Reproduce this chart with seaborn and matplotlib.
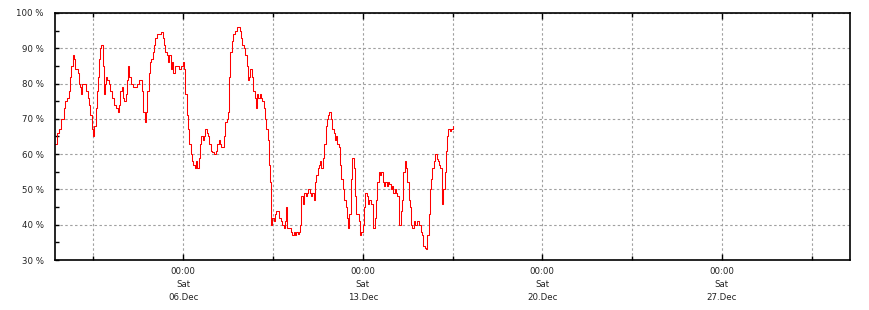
import numpy as np
import pandas as pd
import matplotlib
matplotlib.use("Agg")
import matplotlib.pyplot as plt
import matplotlib.dates as mdates
from matplotlib.ticker import FixedLocator, FuncFormatter, MultipleLocator
import seaborn as sns

# ---- data (day offset from 1 Dec 00:00, value in %) ----
days = [0.00, 0.08, 0.16, 0.25, 0.34, 0.40, 0.48, 0.53, 0.58, 0.64, 0.69, 0.73, 0.78, 0.83, 0.88,
        0.93, 0.99, 1.01, 1.04, 1.11, 1.17, 1.22, 1.27, 1.32, 1.37, 1.43, 1.48, 1.53, 1.58, 1.62,
        1.67, 1.71, 1.76, 1.81, 1.87, 1.91, 1.96, 2.00, 2.04, 2.10, 2.16, 2.23, 2.31, 2.39, 2.44,
        2.49, 2.55, 2.61, 2.64, 2.70, 2.75, 2.80, 2.85, 2.90, 2.96, 3.03, 3.11, 3.19, 3.27, 3.34,
        3.40, 3.45, 3.50, 3.55, 3.60, 3.66, 3.71, 3.76, 3.81, 3.86, 3.91, 3.99, 4.07, 4.15, 4.20,
        4.25, 4.30, 4.36, 4.41, 4.46, 4.51, 4.56, 4.62, 4.69, 4.77, 4.85, 4.93, 4.98, 5.03, 5.08,
        5.13, 5.19, 5.24, 5.29, 5.34, 5.39, 5.44, 5.50, 5.55, 5.60, 5.65, 5.70, 5.76, 5.81, 5.86,
        5.91, 5.96, 6.01, 6.07, 6.12, 6.20, 6.27, 6.33, 6.38, 6.43, 6.48, 6.53, 6.59, 6.64, 6.69,
        6.74, 6.79, 6.84, 6.90, 6.95, 7.03, 7.10, 7.16, 7.21, 7.26, 7.31, 7.36, 7.42, 7.47, 7.52,
        7.57, 7.62, 7.67, 7.73, 7.78, 7.83, 7.88, 7.93, 7.99, 8.04, 8.09, 8.14, 8.19, 8.24, 8.30,
        8.35, 8.37, 8.43, 8.48, 8.53, 8.58, 8.63, 8.69, 8.74, 8.82, 8.87, 8.92, 8.97, 9.00, 9.05,
        9.15, 9.20, 9.25, 9.30, 9.36, 9.41, 9.46, 9.51, 9.56, 9.61, 9.67, 9.72, 9.77, 9.82, 9.87,
        9.93, 9.98, 10.03, 10.08, 10.13, 10.19, 10.24, 10.29, 10.34, 10.39, 10.44, 10.50, 10.55,
        10.60, 10.65, 10.70, 10.76, 10.81, 10.86, 10.91, 10.96, 11.01, 11.07, 11.12, 11.17, 11.22,
        11.27, 11.33, 11.38, 11.43, 11.48, 11.53, 11.59, 11.64, 11.69, 11.74, 11.79, 11.84, 11.90,
        11.95, 12.00, 12.05, 12.10, 12.16, 12.21, 12.26, 12.31, 12.36, 12.41, 12.47, 12.52, 12.57,
        12.62, 12.67, 12.73, 12.78, 12.83, 12.88, 12.93, 12.99, 13.04, 13.09, 13.14, 13.19, 13.24,
        13.30, 13.35, 13.40, 13.43, 13.48, 13.53, 13.58, 13.63, 13.69, 13.74, 13.79, 13.84, 13.89,
        13.94, 14.00, 14.05, 14.10, 14.15, 14.20, 14.26, 14.31, 14.36, 14.41, 14.46, 14.51, 14.57,
        14.62, 14.67, 14.72, 14.77, 14.83, 14.88, 14.93, 14.98, 15.03, 15.08, 15.14, 15.19, 15.24,
        15.29, 15.34, 15.40, 15.45, 15.50]

values = [63, 66, 67, 70, 73, 75, 76, 78, 82, 85, 88, 87, 84, 84, 83,
          80, 79, 77, 80, 80, 80, 78, 76, 74, 71, 67, 65, 68, 73, 78,
          82, 87, 90, 91, 85, 77, 80, 82, 81, 80, 78, 76, 74, 73, 72,
          74, 78, 79, 76, 75, 77, 81, 85, 82, 80, 79, 79, 80, 81, 81,
          78, 72, 69, 72, 78, 83, 86, 87, 89, 91, 93, 94, 94, 94.5, 93,
          91, 89, 88, 86, 88, 84, 86, 83, 85, 85, 84, 85, 86, 84, 77,
          71, 67, 63, 60, 58, 57, 56, 58, 56, 59, 63, 65, 64, 65, 67,
          66, 65, 63, 61, 60.5, 60, 61, 63, 64, 63, 62, 62, 65, 69, 70,
          72, 82, 89, 92, 94, 95, 96, 96, 95, 93, 91, 90, 88, 85, 81,
          82, 84, 82, 78, 76, 73, 77, 76, 77, 76, 75, 73, 70, 67, 64,
          57, 52, 40, 42, 41, 43, 44, 44, 42, 41, 40, 39, 41, 45, 39,
          39, 38, 37, 38, 37, 38, 37.5, 38, 40, 48, 46, 49, 48, 49, 50,
          49, 48, 49, 47, 52, 54, 56, 57, 58, 56, 59, 63, 68,
          70, 71, 72, 70, 67, 66, 64, 65, 63, 62, 57, 53, 50,
          47, 45, 42, 39, 43, 53, 59, 56, 48, 43, 43, 41, 37,
          38, 40, 45, 49, 48, 46, 47, 46, 46, 39, 42, 47, 52,
          55, 54, 55, 52, 51, 52, 51, 52, 51.5, 50, 51, 49, 50,
          49, 48, 43, 40, 44, 47, 55, 58, 56, 52, 47, 45, 40,
          39, 41, 40, 41, 41, 40, 38, 37, 34, 33.5, 33, 37, 43,
          50, 53, 56, 58, 60, 58.5, 58, 57, 56, 46, 50, 55, 61,
          65, 67, 66.5, 67, 68]

start = pd.Timestamp("2025-12-01 00:00")
end = pd.Timestamp("2026-01-01 00:00")
major_dates = ["2025-12-06", "2025-12-13", "2025-12-20", "2025-12-27"]
minor_dates = ["2025-12-02 12:00", "2025-12-09 12:00", "2025-12-16 12:00",
               "2025-12-23 12:00", "2025-12-30 12:00"]
y_ticks = [30, 40, 50, 60, 70, 80, 90, 100]

df = pd.DataFrame({"time": start + pd.to_timedelta(days, unit="D"), "value": values})

sns.set_theme(style="white")
plt.rcParams["font.family"] = ["DejaVu Sans"]

fig = plt.figure(figsize=(8.7, 3.1), dpi=100)
ax = fig.add_axes([55 / 870, 50 / 310, 795 / 870, 247 / 310])

sns.lineplot(data=df, x="time", y="value", color="#ff0000", linewidth=0.75, ax=ax,
             drawstyle="steps-post")

ax.set_xlim(start, end)
ax.set_ylim(30, 100)

maj = [mdates.date2num(pd.Timestamp(d)) for d in major_dates]
mnr = [mdates.date2num(pd.Timestamp(d)) for d in minor_dates]
ax.xaxis.set_major_locator(FixedLocator(maj))
ax.xaxis.set_minor_locator(FixedLocator(mnr))
ax.xaxis.set_major_formatter(mdates.DateFormatter("%H:%M\n%a\n%d.%b"))
ax.yaxis.set_major_locator(FixedLocator(y_ticks))
ax.yaxis.set_minor_locator(MultipleLocator(5))
ax.yaxis.set_major_formatter(FuncFormatter(lambda v, p: f"{int(v)} %"))

ax.set_xlabel("")
ax.set_ylabel("")

grid_kw = dict(color="#a0a0a0", linestyle=(0, (2.2, 2.2)), linewidth=0.8)
ax.grid(True, which="major", axis="both", **grid_kw)
ax.grid(True, which="minor", axis="x", **grid_kw)

for s in ax.spines.values():
    s.set_color("black")
    s.set_linewidth(1.2)

ax.tick_params(axis="x", which="both", direction="in", top=True, bottom=True,
               color="black", labelsize=6.2, pad=5)
ax.tick_params(axis="x", which="major", length=4, width=1)
ax.tick_params(axis="x", which="minor", length=3, width=1)
ax.tick_params(axis="y", which="both", direction="in", left=True, right=False,
               color="black", length=3, width=1, labelsize=6.2, pad=8)

fig.canvas.draw()
for lbl in ax.get_xticklabels():
    lbl.set_linespacing(1.55)
    lbl.set_color("#222222")
for lbl in ax.get_yticklabels():
    lbl.set_color("#222222")

fig.savefig("out.png", dpi=100, facecolor="white")
